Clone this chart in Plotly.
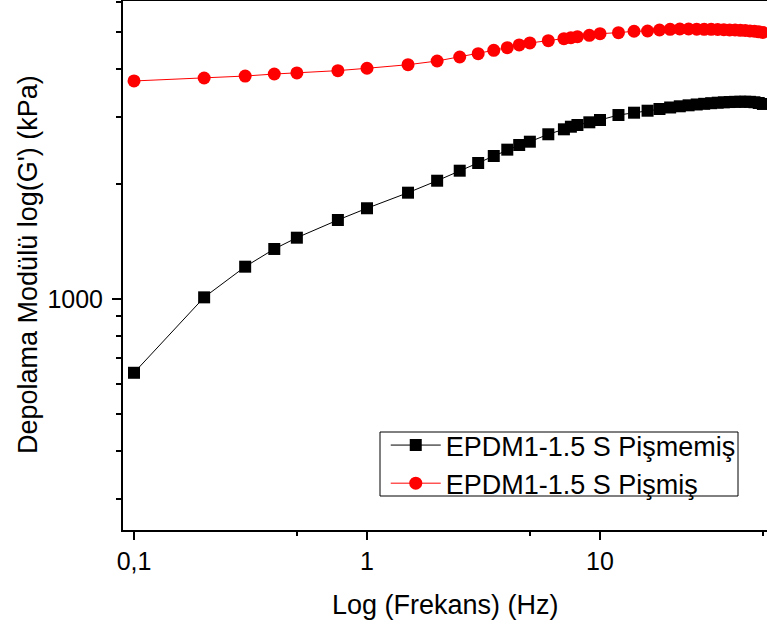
import plotly.graph_objects as go

freq = [0.1, 0.2, 0.3, 0.4, 0.5, 0.75, 1, 1.5, 2, 2.5, 3, 3.5, 4, 4.5, 5, 6, 7, 7.5, 8, 9, 10,
        12, 14, 16, 18, 20, 22, 24, 26, 28, 30, 32, 34, 36, 38, 40, 42, 44, 46, 48, 50]

g_uncured = [641, 1010, 1215, 1352, 1447, 1610, 1728, 1898, 2040, 2167, 2270, 2368, 2460, 2530,
             2581, 2699, 2781, 2825, 2854, 2901, 2942, 3031, 3074, 3111, 3143, 3172, 3195, 3214,
             3230, 3243, 3255, 3265, 3272, 3278, 3282, 3284, 3284, 3282, 3274, 3259, 3240]

g_cured = [3722, 3789, 3834, 3881, 3906, 3961, 4018, 4105, 4198, 4300, 4387, 4477, 4549, 4624,
           4680, 4746, 4803, 4831, 4862, 4900, 4950, 4980, 5022, 5030, 5060, 5082, 5091, 5091,
           5085, 5082, 5082, 5076, 5070, 5060, 5060, 5051, 5045, 5030, 5022, 5006, 4985]

name_uncured = "EPDM1-1.5 S Pişmemiş"
name_cured = "EPDM1-1.5 S Pişmiş"

x_major = [0.1, 1, 10]
x_major_text = ["0,1", "1", "10"]
x_minor = [0.5, 5, 50]
y_major = [1000]
y_major_text = ["1000"]
y_minor = [300, 400, 500, 600, 700, 800, 900, 2000, 3000, 4000, 5000, 6000]

FONT = "Arial, Liberation Sans, sans-serif"

fig = go.Figure()
fig.add_trace(go.Scatter(
    x=freq, y=g_uncured, name=name_uncured, mode="lines+markers",
    line=dict(color="#000000", width=1),
    marker=dict(symbol="square", size=12, color="#000000"),
))
fig.add_trace(go.Scatter(
    x=freq, y=g_cured, name=name_cured, mode="lines+markers",
    line=dict(color="#FF0000", width=1),
    marker=dict(symbol="circle", size=13, color="#FF0000"),
))

fig.update_layout(
    width=767, height=630,
    margin=dict(l=123, r=0, t=1, b=100),
    paper_bgcolor="white", plot_bgcolor="white",
    font=dict(family=FONT, size=27, color="black"),
    showlegend=True,
    legend=dict(
        x=0.408, y=0.206, xanchor="left", yanchor="top",
        bgcolor="rgba(0,0,0,0)", borderwidth=0,
        font=dict(family=FONT, size=27, color="black"),
        tracegroupgap=0, itemwidth=50,
    ),
    shapes=[
        dict(type="rect", xref="paper", yref="paper",
             x0=(380 - 123) / 644, x1=(738 - 123) / 644,
             y0=(530 - 496) / 529, y1=(530 - 432) / 529,
             line=dict(color="black", width=1), fillcolor="white", layer="below"),
    ],
    xaxis=dict(
        type="log", range=[-1.0472, 1.7167],
        showgrid=False, zeroline=False,
        showline=True, linecolor="black", linewidth=2, mirror=True,
        ticks="outside", ticklen=8, tickwidth=2, tickcolor="black",
        tickmode="array", tickvals=x_major, ticktext=x_major_text,
        tickfont=dict(family=FONT, size=25),
        minor=dict(ticks="outside", ticklen=4, tickwidth=2, tickcolor="black",
                   tickmode="array", tickvals=x_minor, showgrid=False),
    ),
    yaxis=dict(
        type="log", range=[2.3953, 3.7801],
        showgrid=False, zeroline=False,
        showline=True, linecolor="black", linewidth=2, mirror=False,
        ticks="outside", ticklen=9, tickwidth=2, tickcolor="black",
        tickmode="array", tickvals=y_major, ticktext=y_major_text,
        tickfont=dict(family=FONT, size=25), ticklabelstandoff=4,
        minor=dict(ticks="outside", ticklen=5, tickwidth=2, tickcolor="black",
                   tickmode="array", tickvals=y_minor, showgrid=False),
    ),
    annotations=[
        dict(text="Log (Frekans) (Hz)", xref="paper", yref="paper",
             x=0.5, y=-0.1418, xanchor="center", yanchor="middle",
             showarrow=False, font=dict(family=FONT, size=27, color="black")),
        dict(text="Depolama Modülü log(G') (kPa)", xref="paper", yref="paper",
             x=-0.1475, y=0.501, xanchor="center", yanchor="middle", textangle=-90,
             showarrow=False, font=dict(family=FONT, size=27, color="black")),
    ],
)

fig.write_html("out.html", config={"displayModeBar": False},
               post_script="document.body.style.margin='0';")
